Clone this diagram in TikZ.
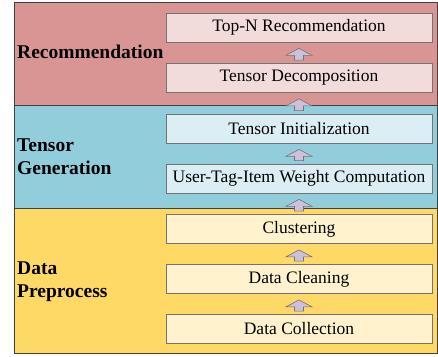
\documentclass[tikz,border=0pt]{standalone}
\usepackage{fontspec}
\setmainfont{Liberation Serif}
\usetikzlibrary{calc}
\definecolor{recband}{HTML}{D99594}
\definecolor{recbox}{HTML}{F2DCDB}
\definecolor{tenband}{HTML}{92CDDC}
\definecolor{tenbox}{HTML}{DBEEF3}
\definecolor{preband}{HTML}{FFD966}
\definecolor{prebox}{HTML}{FFF2CC}
\definecolor{arrfill}{HTML}{CCC0DA}
\newcommand{\flowarrow}[2]{%
    \draw[flowarr] let \p1=(#1.north), \p2=(#2.south) in
        (\x1-4.5pt,\y1+3pt) -- (\x1-4.5pt,\y2-13pt) -- (\x1-13pt,\y2-13pt) -- (\x1,\y2-6pt)
        -- (\x1+13pt,\y2-13pt) -- (\x1+4.5pt,\y2-13pt) -- (\x1+4.5pt,\y1+3pt) -- cycle;}
\begin{document}
\begin{tikzpicture}[x=1pt, y=-1pt,
        band/.style={draw=black!75, line width=0.8pt},
        stage/.style={draw=black!55, line width=0.7pt, minimum width=266pt, minimum height=29pt,
            inner sep=0pt, font=\fontsize{17.5}{21}\selectfont},
        layer/.style={anchor=west, align=left, inner sep=0pt, font=\fontsize{19.5}{23}\selectfont\bfseries},
        flowarr/.style={draw=black!55, fill=arrfill, line width=0.6pt, line join=miter}]
            \useasboundingbox (0,0) rectangle (438,356);
            \fill[white] (0,0) rectangle (438,356);
            \draw[band, fill=recband] (14,2) rectangle (437.5,105);
            \draw[band, fill=tenband] (14,105) rectangle (437.5,208);
            \draw[band, fill=preband] (14,208) rectangle (437.5,353);
            \node[layer] (rec) at (17,52) {Recommendation};
            \node[layer] (gen) at (17,156.5) {Tensor\\Generation};
            \node[layer] (pre) at (17,281.5) {Data\\Preprocess};
            \node[stage, fill=recbox] (topn) at (299,27.5) {Top-N Recommendation};
            \node[stage, fill=recbox] (tdec) at (299,78) {Tensor Decomposition};
            \node[stage, fill=tenbox] (tini) at (299,128.5) {Tensor Initialization};
            \node[stage, fill=tenbox] (utiw) at (299,178.5) {User-Tag-Item Weight Computation};
            \node[stage, fill=prebox] (clus) at (299,229) {Clustering};
            \node[stage, fill=prebox] (dcln) at (299,279) {Data Cleaning};
            \node[stage, fill=prebox] (dcol) at (299,329) {Data Collection};
            \foreach \a/\b in {dcol/dcln, dcln/clus, clus/utiw, utiw/tini, tini/tdec, tdec/topn}
                \flowarrow{\a}{\b};
        \end{tikzpicture}
\end{document}
